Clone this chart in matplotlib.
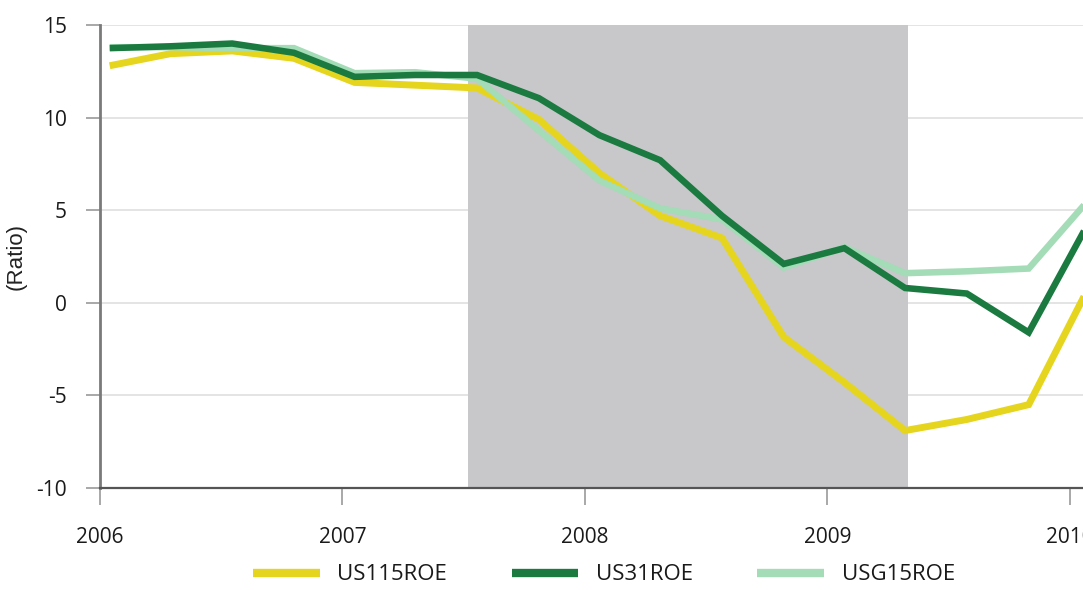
import matplotlib
matplotlib.use("Agg")
import matplotlib.pyplot as plt
import numpy as np

plt.rcParams["axes.unicode_minus"] = False

# Quarterly observations (decimal-year positions)
dates = [2006.04, 2006.29, 2006.545, 2006.80, 2007.05, 2007.30, 2007.555, 2007.81,
         2008.06, 2008.31, 2008.565, 2008.82, 2009.07, 2009.32, 2009.575, 2009.83, 2010.08]

us115roe = [12.8, 13.45, 13.6, 13.2, 11.9, 11.75, 11.6, 9.9, 7.0, 4.7, 3.5, -1.85,
            -4.3, -6.9, -6.3, -5.5, 0.9]
us31roe = [13.75, 13.85, 14.0, 13.5, 12.2, 12.3, 12.3, 11.05, 9.05, 7.7, 4.7, 2.1,
           2.95, 0.8, 0.5, -1.6, 4.4]
usg15roe = [13.8, 13.8, 13.75, 13.75, 12.4, 12.45, 12.1, 9.3, 6.6, 5.1, 4.5, 1.9,
            3.0, 1.6, 1.7, 1.85, 5.6]

recession = (2007.517, 2009.331)
year_ticks = [2006, 2007, 2008, 2009, 2010]
year_labels = ["2006", "2007", "2008", "2009", "2010"]
y_ticks = [-10, -5, 0, 5, 10, 15]

fig = plt.figure(figsize=(10.83, 5.90), dpi=100)
ax = fig.add_axes([100/1083, 1 - 488/590, 983/1083, (488-25)/590])

ax.set_xlim(2006, 2010.054)
ax.set_ylim(-10, 15)

ax.axvspan(recession[0], recession[1], color="#c8c8ca", zorder=1, lw=0)

ax.plot(dates, us115roe, color="#e6d51e", lw=5, label="US115ROE", zorder=2,
        solid_joinstyle="miter", solid_capstyle="butt")
ax.plot(dates, us31roe, color="#1a7a40", lw=4.7, label="US31ROE", zorder=4,
        solid_joinstyle="miter", solid_capstyle="butt")
ax.plot(dates, usg15roe, color="#a3dcb6", lw=4.7, label="USG15ROE", zorder=3,
        solid_joinstyle="miter", solid_capstyle="butt")

ax.set_yticks(y_ticks)
ax.set_xticks(year_ticks)
ax.set_xticklabels(year_labels)
ax.grid(axis="y", color="#e2e2e2", lw=1.3, zorder=0)
ax.set_axisbelow(True)

for s in ["top", "right"]:
    ax.spines[s].set_visible(False)
ax.spines["left"].set_color("#7a7a7a")
ax.spines["left"].set_linewidth(2)
ax.spines["bottom"].set_color("#555555")
ax.spines["bottom"].set_linewidth(1.6)
ax.spines["left"].set_zorder(5)
ax.spines["bottom"].set_zorder(5)

ax.tick_params(axis="y", direction="out", length=10, width=1.2, color="#9a9a9a",
               pad=14, labelsize=15, labelcolor="#1a1a1a")
ax.tick_params(axis="x", direction="out", length=12, width=1.2, color="#9a9a9a",
               pad=16, labelsize=15, labelcolor="#1a1a1a")
for lab in ax.get_xticklabels() + ax.get_yticklabels():
    lab.set_family("Open Sans")

ax.set_ylabel("(Ratio)", fontsize=16, family="Liberation Sans", color="#222222")
ax.yaxis.set_label_coords(-73/983, 0.5)

leg = ax.legend(loc="center", bbox_to_anchor=(604/1083, 1 - 575/590),
                bbox_transform=fig.transFigure, ncol=3,
                frameon=False, prop={"family": "Open Sans", "size": 16},
                handlelength=3.0, handletextpad=0.8, columnspacing=2.9)
for line in leg.get_lines():
    line.set_linewidth(6)
for t in leg.get_texts():
    t.set_color("#1a1a1a")

fig.savefig("out.png", dpi=100)
